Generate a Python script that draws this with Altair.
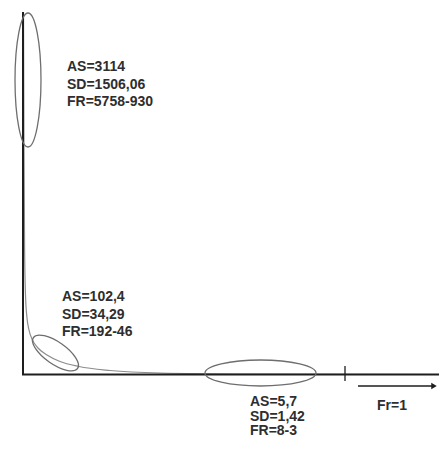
import altair as alt
import pandas as pd

# ---- data: the three annotated regions of the distribution ----
as_values = ["3114", "102,4", "5,7"]
sd_values = ["1506,06", "34,29", "1,42"]
fr_values = ["5758-930", "192-46", "8-3"]
fr_axis_label = "Fr=1"

# hand-drawn reciprocal curve (window pixels)
curve_x = [23.5, 24.0, 24.6, 25.5, 27.0, 29.0, 32.0, 38.0, 47.0, 60.0, 79.0, 110.0, 160.0, 250.0, 440.0]
curve_y = [12.0, 150.0, 250.0, 295.0, 318.0, 330.0, 339.0, 348.0, 355.0, 361.5, 366.5, 370.5, 373.0, 374.0, 374.5]

# ---- layout (window pixel coordinates) ----
W, H = 431, 430
xs = alt.Scale(domain=[8, 8 + W], nice=False, zero=False)
ys = alt.Scale(domain=[8, 8 + H], nice=False, zero=False, reverse=True)

text_anchor = [(67, 67, 17.5), (62, 297, 17.5), (250, 402, 14.5)]

rows = []
for i, (ax, ay, gap) in enumerate(text_anchor):
    rows.append({"x": ax, "y": ay, "t": "AS=" + as_values[i]})
    rows.append({"x": ax, "y": ay + gap, "t": "SD=" + sd_values[i]})
    rows.append({"x": ax, "y": ay + 2 * gap, "t": "FR=" + fr_values[i]})
rows.append({"x": 377, "y": 406, "t": fr_axis_label})
text_df = pd.DataFrame(rows)

curve_df = pd.DataFrame({"x": curve_x, "y": curve_y, "o": list(range(len(curve_x)))})

ell_df = pd.DataFrame({
    "x": [28, 55.5, 260.5],
    "y": [80, 353, 373],
    "shape": [
        "M 0 -1 A 0.194 1 0 1 1 0 1 A 0.194 1 0 1 1 0 -1 Z",
        "M -1 0 A 1 0.407 0 1 1 1 0 A 1 0.407 0 1 1 -1 0 Z",
        "M -1 0 A 1 0.234 0 1 1 1 0 A 1 0.234 0 1 1 -1 0 Z",
    ],
    "size": [134 ** 2, 54 ** 2, 111 ** 2],
    "angle": [0, 35, 0],
})

rules_df = pd.DataFrame({
    "x": [23.0, 22.0, 345.0, 358.0],
    "x2": [23.0, 447.0, 345.0, 432.0],
    "y": [12.0, 374.5, 366.0, 386.0],
    "y2": [375.0, 374.5, 381.0, 386.0],
    "w": [2.0, 1.8, 1.3, 1.5],
})

X = lambda f: alt.X(f, type="quantitative", scale=xs, axis=None)
Y = lambda f: alt.Y(f, type="quantitative", scale=ys, axis=None)

curve = alt.Chart(curve_df).mark_line(
    color="#8c8c8c", strokeWidth=1.2, interpolate="monotone"
).encode(x=X("x"), y=Y("y"), order="o:Q")

rules = alt.Chart(rules_df).mark_rule(color="#1e1e1e").encode(
    x=X("x"), x2="x2:Q", y=Y("y"), y2="y2:Q",
    strokeWidth=alt.StrokeWidth("w:Q", scale=None),
)

arrow_head = alt.Chart(pd.DataFrame({"x": [434], "y": [386]})).mark_point(
    shape="triangle-right", filled=True, color="#1e1e1e", size=40, opacity=1
).encode(x=X("x"), y=Y("y"))

ellipses = alt.Chart(ell_df).mark_point(
    filled=False, color="#6e6e6e", strokeWidth=1.3, opacity=1
).encode(
    x=X("x"), y=Y("y"),
    shape=alt.Shape("shape:N", scale=None),
    size=alt.Size("size:Q", scale=None),
    angle=alt.Angle("angle:Q", scale=None),
)

texts = alt.Chart(text_df).mark_text(
    align="left", baseline="middle", font="Liberation Sans",
    fontWeight="bold", fontSize=14, color="#2e2e2e"
).encode(x=X("x"), y=Y("y"), text="t:N")

chart = alt.layer(curve, rules, arrow_head, ellipses, texts).properties(
    width=W, height=H, padding=0,
    autosize=alt.AutoSizeParams(type="none"),
).configure_view(stroke=None)

chart.save("out.html", embed_options={"renderer": "svg", "actions": False})
